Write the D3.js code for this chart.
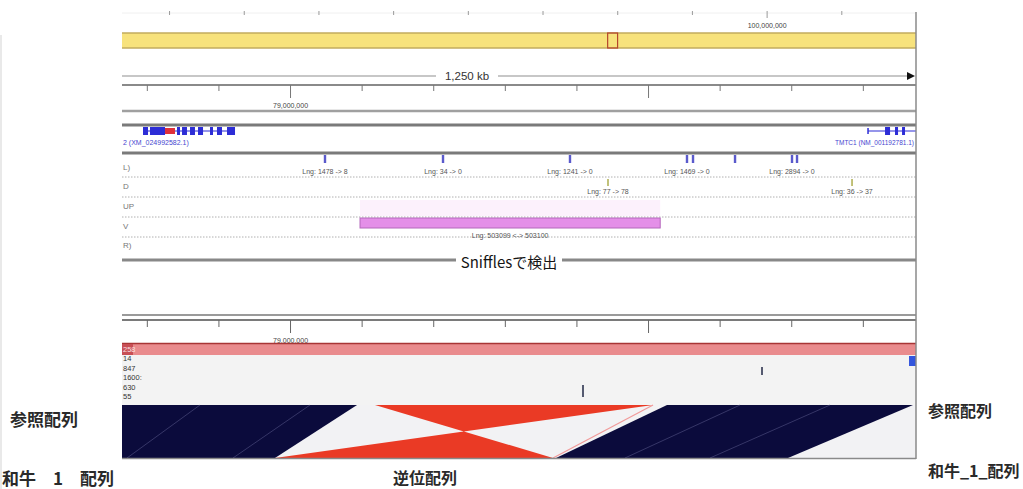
<!DOCTYPE html>
<html>
<head>
<meta charset="utf-8">
<script src="https://cdn.jsdelivr.net/npm/d3@7"></script>
<style>
  body { margin: 0; background: #fff; }
  svg { display: block; }
</style>
</head>
<body>
<svg id="chart" width="1023" height="489"></svg>
<script>
// ---- data -------------------------------------------------------------
// visible window on the reference chromosome (bp)
const viewDomain = [78718400, 80049100];
// chromosome ideogram extent shown in the panel (bp)
const chromDomain = [13700000, 120000000];
const chromTicks = [20e6, 30e6, 40e6, 50e6, 60e6, 70e6, 80e6, 90e6, 100e6, 110e6, 120e6];
const chromTickLabels = [[100e6, "100,000,000"]];
const scaleLabel = "1,250 kb";

// position ruler
const rulerTicks = [78760000, 78880000, 79000000, 79120000, 79240000, 79360000,
                    79480000, 79600000, 79720000, 79840000, 79960000];
const rulerMajor = [79000000, 79600000];
const rulerTickLabels = [[79000000, "79,000,000"]];

// genes
const geneLeftSpan = [78753600, 78907800];
const geneLeftExons = [[78753600, 78762000], [78765300, 78790500], [78810600, 78815600],
                       [78819000, 78827300], [78832400, 78840700], [78845800, 78854200],
                       [78865900, 78870900], [78877600, 78886000], [78894400, 78907800]];
const geneLeftMarked = [78790500, 78807200];
const geneLeftName = "2 (XM_024992582.1)";
const geneRightSpan = [79968700, 80080000];
const geneRightExons = [[79997200, 80005600], [80013900, 80019000], [80025700, 80030700]];
const geneRightName = "TMTC1 (NM_001192781.1)";

// Sniffles structural-variant calls
const svRowNames = ["L)", "D", "UP", "V", "R)"];
const delPos = [79058600, 79256400, 79469200, 79665300, 79675400, 79745800, 79841300, 79849700];
const delLabels = ["Lng: 1478 -> 8", "Lng: 34 -> 0", "Lng: 1241 -> 0", "Lng: 1469 -> 0", "", "", "Lng: 2894 -> 0", ""];
const insPos = [79532900, 79941900];
const insLabels = ["Lng: 77 -> 78", "Lng: 36 -> 37"];
const invStart = 79117300;
const invLength = 503099;
const invLabel = "Lng: 503099 <-> 503100";
const trackTitle = "Snifflesで検出";

// alignment track
const contigLabels = ["258", "14", "847", "1600:", "630", "55"];
const readMarkPos = [79791000, 79491000];
const readMarkRow = [1, 3];
const contigEdgeStart = 80037400;

// synteny between reference and Wagyu_1 assembly
const queryDomain = [77950000, 79280744];
const synRef = [[78600000, 79112300], [79142400, 79608400], [79631800, 80044100]];
const synQry = [[77694100, 78206400], [78206400, 78672400], [78677400, 79066200]];
const synStrand = ["+", "-", "+"];
const synInnerRef = [78849100, 79033500, 79754200, 79905000];
const synInnerQry = [77958400, 78136000, 78793000, 78935500];

const sideLabels = { refLeft: "参照配列", qryLeft: "和牛\u30001\u3000配列", inv: "逆位配列",
                     refRight: "参照配列", qryRight: "和牛_1_配列" };

// ---- drawing ----------------------------------------------------------
const L = 122, R = 916;
const svg = d3.select("#chart");
const sans = "'Liberation Sans', Arial, sans-serif";
const cjk = "'Noto Sans CJK JP', 'Noto Sans', sans-serif";

const x = d3.scaleLinear().domain(viewDomain).range([L, R]);
const xc = d3.scaleLinear().domain(chromDomain).range([L, R]);
const xq = d3.scaleLinear().domain(queryDomain).range([L, R]);

svg.append("rect").attr("width", 1023).attr("height", 489).attr("fill", "#fff");
svg.append("defs").append("clipPath").attr("id", "panel")
  .append("rect").attr("x", L).attr("y", 0).attr("width", R - L).attr("height", 489);

// faint frame edge at far left
svg.append("line").attr("x1", 1).attr("x2", 1).attr("y1", 35).attr("y2", 489)
  .attr("stroke", "#e2e2e2").attr("stroke-width", 1.5);

const panel = svg.append("g").attr("clip-path", "url(#panel)");

function ruler(y, scale, ticks, majors, labels, minorLen, majorLen, labelY, color) {
  const lab = new Map(labels);
  const ax = d3.axisBottom(scale).tickValues(ticks).tickSize(minorLen).tickSizeOuter(0)
    .tickFormat(d => lab.get(d) || "");
  const g = panel.append("g").attr("transform", `translate(0,${y})`).call(ax);
  g.select(".domain").remove();
  g.selectAll(".tick line").attr("stroke", color).attr("stroke-width", 1)
    .attr("y2", d => majors.includes(d) ? majorLen : minorLen);
  g.selectAll(".tick text").attr("y", labelY).attr("dy", 0)
    .attr("font-size", 7).attr("font-family", sans).attr("fill", "#444");
  return g;
}

// chromosome ruler and ideogram
panel.append("line").attr("x1", L).attr("x2", R).attr("y1", 13).attr("y2", 13)
  .attr("stroke", "#f0f0f0").attr("stroke-width", 1);
ruler(11, xc, chromTicks, [100e6, 120e6], chromTickLabels, 4, 7, 17, "#9a9a9a");

panel.append("rect").attr("x", L).attr("y", 33).attr("width", R - L).attr("height", 15)
  .attr("fill", "#f7e27c");
[33, 48].forEach(y => panel.append("line").attr("x1", L).attr("x2", R).attr("y1", y).attr("y2", y)
  .attr("stroke", "#c2ab5e").attr("stroke-width", 1.5));
panel.append("rect").attr("x", xc(viewDomain[0])).attr("y", 33)
  .attr("width", xc(viewDomain[1]) - xc(viewDomain[0])).attr("height", 15)
  .attr("fill", "none").attr("stroke", "#b5452c").attr("stroke-width", 1.2);

// scale bar
panel.append("line").attr("x1", L).attr("x2", 907).attr("y1", 76).attr("y2", 76)
  .attr("stroke", "#b5b5b5").attr("stroke-width", 1.5);
panel.append("path").attr("d", "M907,72 L915,76 L907,80 Z").attr("fill", "#111");
panel.append("rect").attr("x", 436).attr("y", 69).attr("width", 62).attr("height", 14).attr("fill", "#fff");
panel.append("text").attr("x", 467).attr("y", 80).attr("text-anchor", "middle")
  .attr("font-family", sans).attr("font-size", 11.5).attr("fill", "#333").text(scaleLabel);

// position ruler
panel.append("line").attr("x1", L).attr("x2", R).attr("y1", 85).attr("y2", 85)
  .attr("stroke", "#8a8a8a").attr("stroke-width", 2);
ruler(85, x, rulerTicks, rulerMajor, rulerTickLabels, 6, 13, 23, "#777");

// track separators
[[111, "#a0a0a0", 2.5], [125, "#7a7a7a", 3], [153, "#7a7a7a", 3], [260, "#888", 3]]
  .forEach(([y, c, w]) => panel.append("line").attr("x1", L).attr("x2", R)
    .attr("y1", y).attr("y2", y).attr("stroke", c).attr("stroke-width", w));

// gene track
const geneBlue = "#2d2dd6";
panel.append("line").attr("x1", x(geneLeftSpan[0])).attr("x2", x(geneLeftSpan[1]))
  .attr("y1", 131).attr("y2", 131).attr("stroke", geneBlue).attr("stroke-width", 1.2);
panel.selectAll(".exL").data(geneLeftExons).join("rect")
  .attr("x", d => x(d[0])).attr("width", d => Math.max(1.5, x(d[1]) - x(d[0])))
  .attr("y", 127).attr("height", 8).attr("fill", geneBlue);
panel.append("rect").attr("x", x(geneLeftMarked[0])).attr("width", x(geneLeftMarked[1]) - x(geneLeftMarked[0]))
  .attr("y", 128).attr("height", 6).attr("fill", "#e0303a");
panel.append("text").attr("x", L + 1).attr("y", 145).attr("font-family", sans).attr("font-size", 7)
  .attr("fill", "#4646d0").text(geneLeftName);

panel.append("line").attr("x1", x(geneRightSpan[0])).attr("x2", x(geneRightSpan[1]))
  .attr("y1", 131).attr("y2", 131).attr("stroke", geneBlue).attr("stroke-width", 1.2);
panel.append("line").attr("x1", x(geneRightSpan[0])).attr("x2", x(geneRightSpan[0]))
  .attr("y1", 128).attr("y2", 134).attr("stroke", geneBlue).attr("stroke-width", 1.5);
panel.selectAll(".exR").data(geneRightExons).join("rect")
  .attr("x", d => x(d[0])).attr("width", d => x(d[1]) - x(d[0]))
  .attr("y", 127).attr("height", 8).attr("fill", geneBlue);
panel.append("text").attr("x", 914).attr("y", 145).attr("text-anchor", "end")
  .attr("font-family", sans).attr("font-size", 6.5).attr("fill", "#4646d0").text(geneRightName);

// SV rows
const rowY = [170, 189, 209, 229, 248];
panel.selectAll(".rowName").data(svRowNames).join("text")
  .attr("x", L + 1).attr("y", (d, i) => rowY[i]).attr("font-family", sans).attr("font-size", 8)
  .attr("fill", "#777").text(d => d);
[177, 197, 217, 237].forEach(y => panel.append("line").attr("x1", L).attr("x2", R)
  .attr("y1", y).attr("y2", y).attr("stroke", "#b0b0b0").attr("stroke-width", 1)
  .attr("stroke-dasharray", "1.5,1.5"));

panel.selectAll(".del").data(delPos).join("rect")
  .attr("x", d => x(d) - 1.2).attr("width", 2.4).attr("y", 155).attr("height", 8)
  .attr("fill", "#5a5acc");
panel.selectAll(".delLab").data(delPos).join("text")
  .attr("x", d => x(d)).attr("y", 174).attr("text-anchor", "middle")
  .attr("font-family", sans).attr("font-size", 7).attr("fill", "#555")
  .text((d, i) => delLabels[i]);

panel.selectAll(".ins").data(insPos).join("rect")
  .attr("x", d => x(d) - 0.8).attr("width", 1.6).attr("y", 179).attr("height", 7)
  .attr("fill", "#b3b35a");
panel.selectAll(".insLab").data(insPos).join("text")
  .attr("x", d => x(d)).attr("y", 194).attr("text-anchor", "middle")
  .attr("font-family", sans).attr("font-size", 7).attr("fill", "#555")
  .text((d, i) => insLabels[i]);

const invEnd = invStart + invLength;
panel.append("rect").attr("x", x(invStart)).attr("width", x(invEnd) - x(invStart))
  .attr("y", 200).attr("height", 16).attr("fill", "#fcf1fc");
panel.append("rect").attr("x", x(invStart)).attr("width", x(invEnd) - x(invStart))
  .attr("y", 218).attr("height", 10).attr("fill", "#e48fe8").attr("stroke", "#b468bb").attr("stroke-width", 1);
panel.append("text").attr("x", (x(invStart) + x(invEnd)) / 2).attr("y", 238).attr("text-anchor", "middle")
  .attr("font-family", sans).attr("font-size", 7).attr("fill", "#555").text(invLabel);

panel.append("rect").attr("x", 456).attr("y", 253).attr("width", 106).attr("height", 20).attr("fill", "#fff");
panel.append("text").attr("x", 509).attr("y", 268).attr("text-anchor", "middle")
  .attr("font-family", cjk).attr("font-size", 15).attr("fill", "#151515").text(trackTitle);

// lower panel ruler
panel.append("line").attr("x1", L).attr("x2", R).attr("y1", 315).attr("y2", 315)
  .attr("stroke", "#9a9a9a").attr("stroke-width", 2);
panel.append("line").attr("x1", L).attr("x2", R).attr("y1", 320).attr("y2", 320)
  .attr("stroke", "#7a7a7a").attr("stroke-width", 2);
ruler(320, x, rulerTicks, rulerMajor, rulerTickLabels, 7, 13, 23, "#666");

// alignment coverage track
panel.append("rect").attr("x", L).attr("y", 355).attr("width", R - L).attr("height", 50).attr("fill", "#f3f3f3");
panel.append("rect").attr("x", L).attr("y", 343).attr("width", R - L).attr("height", 12).attr("fill", "#e98b8d");
panel.append("line").attr("x1", L).attr("x2", R).attr("y1", 343.5).attr("y2", 343.5)
  .attr("stroke", "#a83535").attr("stroke-width", 1.5);
panel.append("rect").attr("x", L).attr("y", 344).attr("width", 11).attr("height", 11).attr("fill", "#c84f55");
panel.selectAll(".ctg").data(contigLabels).join("text")
  .attr("x", L + 1).attr("y", (d, i) => 352 + i * 9.4)
  .attr("font-family", sans).attr("font-size", 7.5)
  .attr("fill", (d, i) => i === 0 ? "#fbe0e0" : "#333").text(d => d);
panel.selectAll(".rm").data(readMarkPos).join("rect")
  .attr("x", d => x(d) - 1).attr("width", 2)
  .attr("y", (d, i) => 358 + readMarkRow[i] * 9).attr("height", (d, i) => readMarkRow[i] === 1 ? 8 : 12)
  .attr("fill", "#555a70");
panel.append("rect").attr("x", x(contigEdgeStart)).attr("y", 356).attr("width", R - x(contigEdgeStart))
  .attr("height", 10).attr("fill", "#3456dd");

// synteny ribbons
const yTop = 405, yBot = 458;
panel.append("rect").attr("x", L).attr("y", yTop).attr("width", R - L).attr("height", yBot - yTop)
  .attr("fill", "#f2f2f4");
const ribbon = i => {
  const [rs, re] = synRef[i], [qs, qe] = synQry[i];
  const bottom = synStrand[i] === "+" ? [[xq(qe), yBot], [xq(qs), yBot]] : [[xq(qs), yBot], [xq(qe), yBot]];
  return [[x(rs), yTop], [x(re), yTop], ...bottom];
};
panel.selectAll(".syn").data(synRef.map((d, i) => i)).join("polygon")
  .attr("points", i => ribbon(i).map(p => p.join(",")).join(" "))
  .attr("fill", i => synStrand[i] === "+" ? "#0b0b3c" : "#ea3a25");
panel.selectAll(".synIn").data(synInnerRef).join("line")
  .attr("x1", d => x(d)).attr("y1", yTop)
  .attr("x2", (d, i) => xq(synInnerQry[i])).attr("y2", yBot)
  .attr("stroke", "#5a5a8a").attr("stroke-opacity", 0.55).attr("stroke-width", 1);
panel.append("line").attr("x1", x(synRef[1][1])).attr("y1", yTop)
  .attr("x2", xq(synQry[1][1])).attr("y2", yBot)
  .attr("stroke", "#f19a9a").attr("stroke-width", 1.2);

panel.append("line").attr("x1", L).attr("x2", R).attr("y1", yBot + 0.5).attr("y2", yBot + 0.5)
  .attr("stroke", "#8a8a8a").attr("stroke-width", 1.5);

// right frame edge
svg.append("line").attr("x1", R).attr("x2", R).attr("y1", 12).attr("y2", yBot + 1)
  .attr("stroke", "#8a8a8a").attr("stroke-width", 1.5);

// side labels
const lab = (t, xp, yp, size, anchor) => svg.append("text").attr("x", xp).attr("y", yp)
  .attr("text-anchor", anchor || "start").attr("font-family", cjk).attr("font-weight", 700)
  .attr("font-size", size).attr("fill", "#2a2a2a").text(t);
lab(sideLabels.refLeft, 10, 426, 17);
lab(sideLabels.qryLeft, 2, 485, 17);
lab(sideLabels.inv, 393, 484, 16);
lab(sideLabels.refRight, 928, 417, 16);
lab(sideLabels.qryRight, 928, 477, 16);
</script>
</body>
</html>
